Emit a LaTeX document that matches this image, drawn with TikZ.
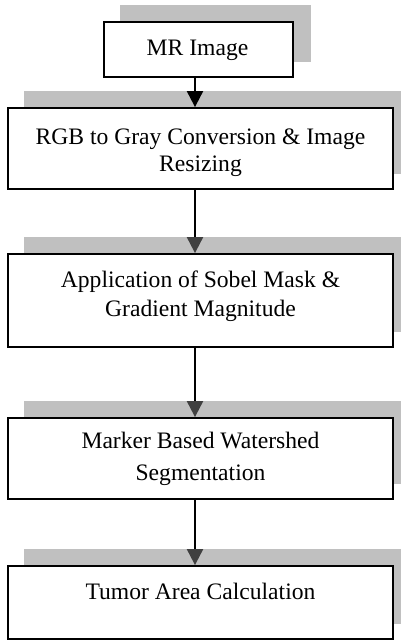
\documentclass[tikz,border=0pt]{standalone}
\usepackage{fontspec}
\setmainfont{Liberation Serif}
\usetikzlibrary{arrows.meta,calc,backgrounds}
\definecolor{shadowgray}{HTML}{C0C0C0}
\definecolor{tipgray}{HTML}{404040}
\begin{document}
\begin{tikzpicture}[x=1pt,y=-1pt,
  boxnode/.style={draw=black,line width=1.8pt,fill=white,rectangle,inner sep=0pt},
  txt/.style={font=\fontsize{23.6}{28}\selectfont,align=center,anchor=base,inner sep=0pt},
  arr/.style={line width=2pt,-{Triangle[width=16pt,length=16pt,color=#1]}},
  arr/.default=tipgray,
  shadowbox/.style={fill=shadowgray,draw=none}]
\useasboundingbox (0,0) rectangle (401,640);
\clip (0,0) rectangle (401,640);
% boxes
\node[boxnode,minimum width=189pt,minimum height=55pt] (b1) at (198.5,49.5) {};
\node[boxnode,minimum width=385pt,minimum height=81pt] (b2) at (200.5,148.5) {};
\node[boxnode,minimum width=385pt,minimum height=93pt] (b3) at (200.5,300.5) {};
\node[boxnode,minimum width=385pt,minimum height=81pt] (b4) at (200.5,458.5) {};
\node[boxnode,minimum width=385pt,minimum height=73pt] (b5) at (200.5,602.5) {};
% shadows
\begin{pgfonlayer}{background}
\foreach \b in {b1,b2,b3,b4,b5}{
  \fill[shadowgray] ($(\b.north west)+(17,-16)$) rectangle ($(\b.south east)+(17,-16)$);
}
\end{pgfonlayer}
% texts (anchor = baseline of last line)
\node[txt] (t1) at (197.5,55) {MR Image};
\node[txt,font=\fontsize{23.6}{27}\selectfont] (t2) at (200.5,171) {RGB to Gray Conversion \& Image\\Resizing};
\node[txt,font=\fontsize{23.6}{29}\selectfont] (t3) at (200.5,316) {Application of Sobel Mask \&\\Gradient Magnitude};
\node[txt,font=\fontsize{23.6}{32}\selectfont] (t4) at (200.5,480) {Marker Based Watershed\\Segmentation};
\node[txt] (t5) at (200.5,599) {Tumor Area Calculation};
% arrows
\draw[arr=black] ([xshift=-3.5pt]b1.south) -- ([xshift=-5.5pt]b2.north);
\draw[arr] ([xshift=-5.5pt]b2.south) -- ([xshift=-5.5pt]b3.north);
\draw[arr] ([xshift=-5.5pt]b3.south) -- ([xshift=-5.5pt]b4.north);
\draw[arr] ([xshift=-5.5pt]b4.south) -- ([xshift=-5.5pt]b5.north);
\end{tikzpicture}
\end{document}
